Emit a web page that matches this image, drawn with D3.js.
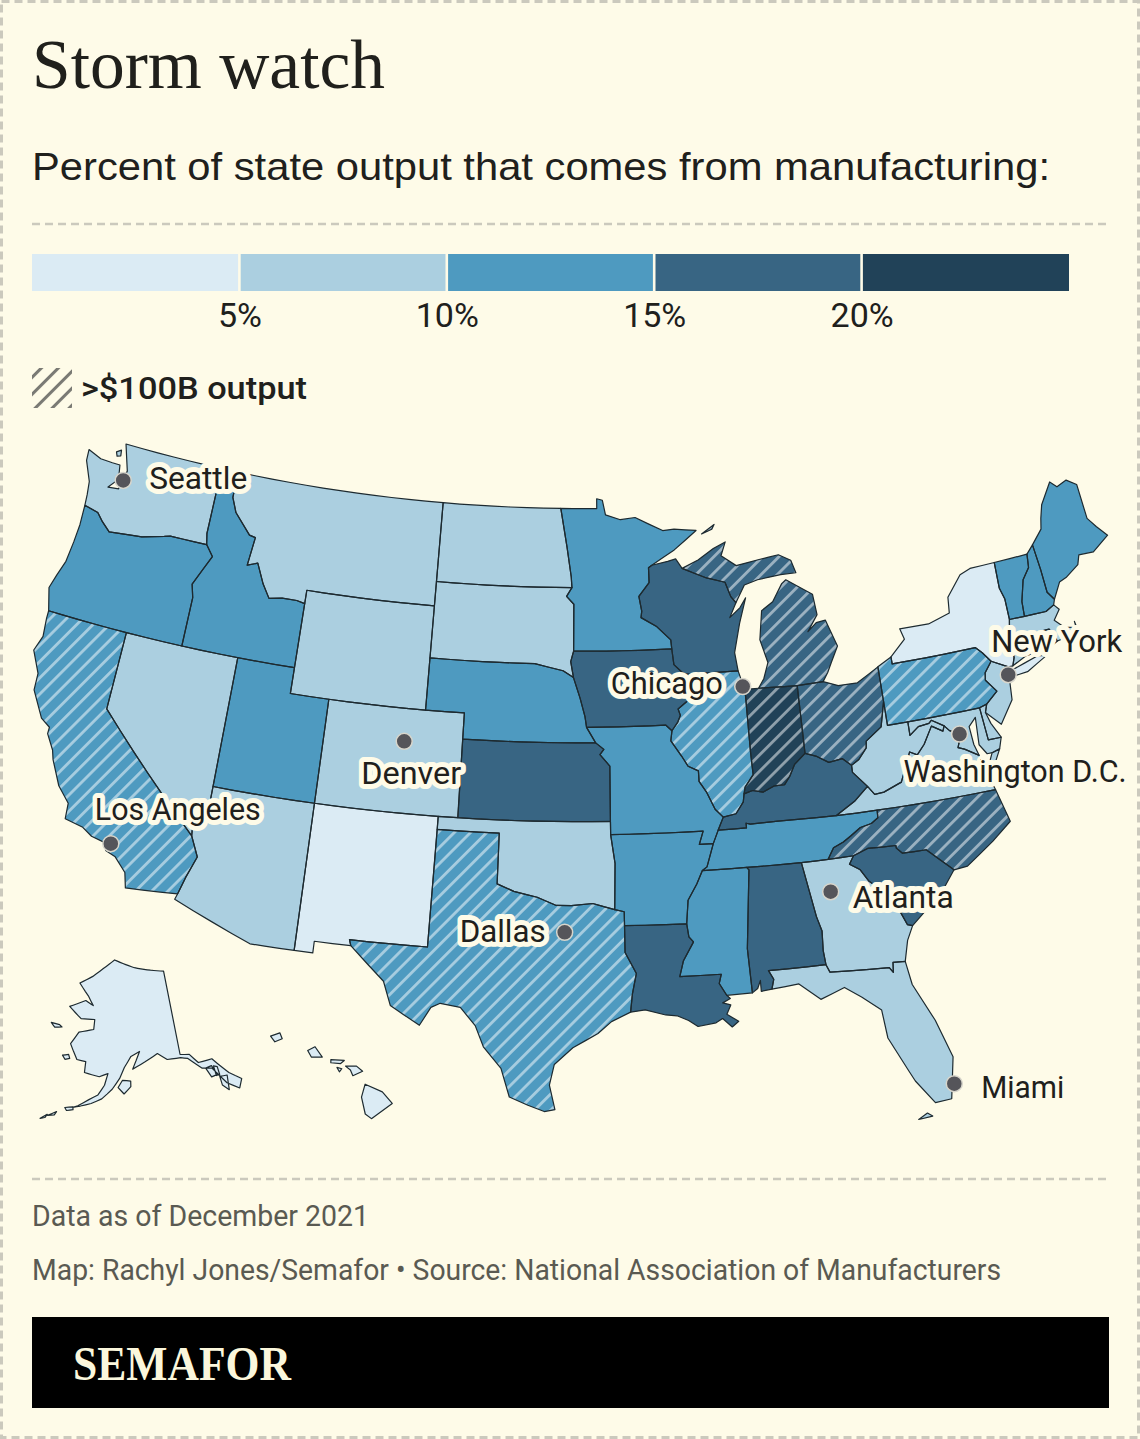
<!DOCTYPE html>
<html>
<head>
<meta charset="utf-8">
<script src="https://cdn.jsdelivr.net/npm/d3@7"></script>
<style>
  html, body { margin: 0; padding: 0; background: #fefbe8; }
  svg { display: block; }
  .label { font-family: Roboto, sans-serif; font-size: 32px; fill: #20201c; paint-order: stroke; stroke: #fefbe8; stroke-width: 10px; stroke-linejoin: round; }
  .foot { font-family: Roboto, sans-serif; font-size: 30px; fill: #5a5a52; }
</style>
</head>
<body>
<svg id="chart" width="1140" height="1439"></svg>
<script>
// ---- text ----
const titleText = 'Storm watch';
const subtitleText = 'Percent of state output that comes from manufacturing:';
const hatchKeyText = '>$100B output';
const footLines = ['Data as of December 2021', 'Map: Rachyl Jones/Semafor \u2022 Source: National Association of Manufacturers'];

// ---- colour key ----
const breaks = [5, 10, 15, 20];
const keyMax = 25;
const palette = ['#dbebf4', '#abcfe0', '#4e9ac0', '#386583', '#214258'];

// ---- percent of output from manufacturing ----
const stateValues = {
  AL: 17, AK: 4, AZ: 8, AR: 14, CA: 11, CO: 6, CT: 9, DE: 6, FL: 5, GA: 9.5, HI: 2, ID: 11, IL: 12, IN: 25,
  IA: 17, KS: 16, KY: 17, LA: 17, ME: 10.5, MD: 5.5, MA: 9, MI: 18, MN: 13, MS: 14, MO: 11, MT: 6, NE: 11,
  NV: 5, NH: 11, NJ: 6.5, NM: 3.5, NY: 4.5, NC: 16, ND: 7.5, OH: 17, OK: 9, OR: 13, PA: 12, RI: 8, SC: 16,
  SD: 9.8, TN: 14.5, TX: 12, UT: 11, VT: 11, VA: 8, WA: 9, WV: 9, WI: 18, WY: 6
};
// states over $100B manufacturing output
const bigOutput = ['CA', 'TX', 'IL', 'PA', 'MI', 'OH', 'NC', 'IN'];

// ---- cities [name, lon, lat] ----
const cities = [
  ['Seattle', -122.33, 47.61], ['Chicago', -87.63, 41.88], ['New York', -74.0, 40.71],
  ['Denver', -104.99, 39.74], ['Los Angeles', -118.24, 34.05], ['Dallas', -96.8, 32.78],
  ['Atlanta', -84.39, 33.75], ['Washington D.C.', -77.04, 38.9], ['Miami', -80.19, 25.76]
];

// ---- shared state borders, lon/lat ----
const mnWi = [[-92.1,46.75],[-92.29,46.66],[-92.29,46.08],[-92.88,45.57],[-92.75,45.0],[-92.8,44.75],[-92.0,44.4],[-91.25,43.85],[-91.22,43.5]];
const iaWi = [[-91.22,43.5],[-91.15,42.9],[-90.64,42.51]];
const iaIl = [[-90.64,42.51],[-90.15,41.9],[-90.34,41.6],[-91.05,41.2],[-90.95,40.95],[-91.1,40.7],[-91.42,40.38]];
const moIl = [[-91.42,40.38],[-91.5,40.0],[-91.0,39.4],[-90.7,39.0],[-90.2,38.8],[-90.2,38.4],[-89.85,37.95],[-89.5,37.3],[-89.13,36.98]];
const moKy = [[-89.13,36.98],[-89.42,36.5]];
const moTn = [[-89.42,36.5],[-89.7,36.0]];
const arTn = [[-89.7,36.0],[-90.07,35.13],[-90.3,35.0]];
const arMs = [[-90.3,35.0],[-90.6,34.5],[-91.05,33.9],[-91.17,33.0]];
const laMs = [[-91.17,33.0],[-91.1,32.5],[-90.9,32.3],[-91.4,31.6],[-91.6,31.0],[-89.73,31.0],[-89.85,30.65],[-89.55,30.18]];
const ilKy = [[-89.13,36.98],[-88.5,37.07],[-88.1,37.5],[-88.03,37.8]];
const inIl = [[-88.03,37.8],[-87.95,38.05],[-87.5,38.5],[-87.53,39.35],[-87.53,41.71]];
const inKy = [[-88.03,37.8],[-87.6,37.9],[-87.1,37.8],[-86.5,38.0],[-86.0,38.0],[-85.7,38.3],[-85.4,38.73],[-84.82,39.1]];
const ohIn = [[-84.82,39.1],[-84.81,41.7]];
const ohKy = [[-84.82,39.1],[-84.3,38.95],[-83.7,38.65],[-83.0,38.72],[-82.6,38.42]];
const ohWv = [[-82.6,38.42],[-82.2,38.6],[-81.75,39.0],[-81.7,39.25],[-80.85,39.7],[-80.52,40.64]];
const ohPa = [[-80.52,40.64],[-80.52,41.98]];
const wvKy = [[-82.6,38.42],[-82.6,38.15],[-81.97,37.54]];
const kyVa = [[-81.97,37.54],[-82.7,37.05],[-83.68,36.6]];
const kyTn = [[-89.42,36.5],[-88.05,36.5],[-88.05,36.68],[-87.85,36.63],[-86.5,36.65],[-83.68,36.6]];
const vaTn = [[-83.68,36.6],[-81.68,36.59]];
const vaNc = [[-81.68,36.59],[-75.87,36.55]];
const tnNc = [[-81.68,36.59],[-81.7,36.3],[-82.05,36.12],[-82.6,36.03],[-83.1,35.77],[-83.5,35.57],[-84.0,35.4],[-84.32,34.99]];
const tnMs = [[-90.3,35.0],[-88.2,35.0]];
const tnAl = [[-88.2,35.0],[-85.6,34.98]];
const tnGa = [[-85.6,34.98],[-84.32,34.99]];
const ncGa = [[-84.32,34.99],[-83.11,35.0]];
const ncSc = [[-83.11,35.0],[-82.4,35.2],[-81.05,35.15],[-81.05,35.05],[-80.8,34.82],[-79.67,34.8],[-78.55,33.86]];
const gaSc = [[-83.11,35.0],[-83.35,34.7],[-82.9,34.45],[-82.55,33.95],[-81.9,33.45],[-81.5,33.0],[-81.1,32.1],[-80.87,32.03]];
const alGa = [[-85.6,34.98],[-85.18,32.87],[-85.0,32.3],[-85.05,31.55],[-85.0,31.0]];
const gaFl = [[-85.0,31.0],[-84.86,30.7],[-82.2,30.57],[-82.05,30.37],[-82.0,30.75],[-81.45,30.72]];
const alFl = [[-85.0,31.0],[-87.6,31.0],[-87.4,30.65],[-87.52,30.28]];
const alMs = [[-88.2,35.0],[-88.1,34.9],[-88.47,31.9],[-88.4,30.2]];
const arMo = [[-89.7,36.0],[-90.37,36.0],[-90.15,36.5],[-94.62,36.5]];
const moOk = [[-94.62,36.5],[-94.62,37.0]];
const moKs = [[-94.62,37.0],[-94.61,39.11],[-95.1,39.55],[-94.9,39.75],[-95.31,40.0]];
const moNe = [[-95.31,40.0],[-95.77,40.59]];
const moIa = [[-95.77,40.59],[-91.73,40.61],[-91.42,40.38]];
const iaNe = [[-95.77,40.59],[-95.85,41.0],[-96.1,41.7],[-96.45,42.49]];
const iaSd = [[-96.45,42.49],[-96.6,43.1],[-96.45,43.5]];
const iaMn = [[-96.45,43.5],[-91.22,43.5]];
const mnSd = [[-96.45,43.5],[-96.45,45.3],[-96.85,45.6],[-96.56,45.94]];
const mnNd = [[-96.56,45.94],[-96.6,46.35],[-96.85,47.5],[-97.23,49.0]];
const wiMi = [[-90.42,46.57],[-89.1,46.14],[-88.1,45.92],[-87.85,45.35],[-87.6,45.1]];
const ilWi = [[-87.8,42.49],[-90.64,42.51]];
const miIn = [[-86.82,41.76],[-84.81,41.7]];
const miOh = [[-84.81,41.7],[-83.45,41.73]];
const paNy = [[-79.76,42.27],[-79.76,42.0],[-75.35,42.0],[-75.05,41.75],[-74.7,41.36]];
const paNj = [[-74.7,41.36],[-75.13,40.98],[-75.2,40.7],[-74.75,40.2],[-75.4,39.8]];
const paDe = [[-75.4,39.8],[-75.79,39.72]];
const paMd = [[-75.79,39.72],[-79.48,39.72]];
const paWv = [[-79.48,39.72],[-80.52,39.72],[-80.52,40.64]];
const nyVt = [[-73.34,45.01],[-73.4,44.0],[-73.25,43.55],[-73.27,42.75]];
const nyMa = [[-73.27,42.75],[-73.5,42.05]];
const nyCt = [[-73.5,42.05],[-73.5,41.3],[-73.66,41.0]];
const nyNj = [[-73.9,41.0],[-74.7,41.36]];
const vtNh = [[-71.5,45.01],[-71.6,44.5],[-72.05,44.1],[-72.4,43.3],[-72.46,42.73]];
const vtMa = [[-73.27,42.75],[-72.46,42.73]];
const nhMa = [[-72.46,42.73],[-71.3,42.7],[-70.82,42.87]];
const nhMe = [[-71.08,45.3],[-71.0,44.3],[-70.98,43.4],[-70.7,43.07]];
const maCt = [[-73.5,42.05],[-71.8,42.02]];
const maRi = [[-71.8,42.02],[-71.38,42.02],[-71.12,41.5]];
const ctRi = [[-71.8,42.02],[-71.85,41.32]];
const mdDe = [[-75.79,39.72],[-75.7,38.46],[-75.05,38.45]];
const mdVa = [[-76.3,37.95],[-76.95,38.3],[-77.25,38.4],[-77.04,38.79],[-77.12,38.93],[-77.5,39.1],[-77.72,39.32]];
const mdWv = [[-77.72,39.32],[-78.3,39.62],[-78.45,39.52],[-79.0,39.47],[-79.49,39.2],[-79.48,39.72]];
const vaWv = [[-77.72,39.32],[-77.83,39.13],[-78.35,39.4],[-78.87,38.77],[-79.3,38.42],[-79.65,38.58],[-80.3,37.5],[-81.22,37.23],[-81.68,37.2],[-81.97,37.54]];
const okTx = [[-103.0,36.5],[-100.0,36.5],[-100.0,34.56],[-99.2,34.3],[-98.1,34.1],[-97.2,33.8],[-96.5,33.8],[-95.5,33.88],[-94.48,33.64]];
const okAr = [[-94.62,36.5],[-94.43,35.4],[-94.48,33.64]];
const arTx = [[-94.48,33.64],[-94.04,33.55],[-94.04,33.02]];
const arLa = [[-94.04,33.02],[-91.17,33.0]];
const txLa = [[-94.04,33.02],[-94.04,31.99],[-93.55,31.18],[-93.75,30.4],[-93.85,29.7]];
const waOr = [[-124.0,46.27],[-123.2,46.15],[-122.8,45.85],[-122.3,45.55],[-121.2,45.65],[-120.5,45.7],[-119.3,45.93],[-118.98,46.0],[-116.92,46.0]];
const waId = [[-117.03,49.0],[-117.04,46.42],[-116.92,46.0]];
const orId = [[-116.92,46.0],[-116.47,45.6],[-116.85,45.0],[-117.22,44.4],[-117.03,43.9],[-117.03,42.0]];
const orCa = [[-124.21,42.0],[-120.0,42.0]];
const idMt = [[-116.05,49.0],[-116.05,48.0],[-115.7,47.45],[-114.7,46.7],[-114.35,46.65],[-114.5,45.55],[-113.95,45.7],[-113.45,44.95],[-113.0,44.45],[-112.3,44.55],[-111.5,44.55],[-111.05,44.48]];
const caNv = [[-120.0,42.0],[-120.0,39.0],[-114.6,35.0]];
const caAz = [[-114.6,35.0],[-114.15,34.25],[-114.5,33.4],[-114.72,32.72]];
const nvAz = [[-114.05,36.2],[-114.75,36.1],[-114.6,35.0]];

// ---- state outlines, one entry per polygon ----
const rev = a => a.slice().reverse();
const stateShapes = {
  WA: [[[-124.7,48.38],[-123.9,48.17],[-123.2,48.15],[-122.75,48.15],[-122.6,47.6],[-123.05,47.2],[-122.45,47.25],[-122.35,47.7],[-122.25,48.0],[-122.5,48.5],[-122.75,49.0],...waId, ...rev(waOr),[-124.05,46.7],[-124.15,47.2],[-124.65,47.95]],
       [[-123.15,48.6],[-122.9,48.72],[-122.85,48.5],[-123.05,48.45]]],
  OR: [[...waOr, ...orId, ...rev(orCa),[-124.55,42.85],[-124.35,43.4],[-124.1,44.0],[-124.0,44.8],[-123.95,45.5]]],
  CA: [[...orCa, ...caNv, ...caAz,[-117.12,32.53],[-117.3,33.1],[-117.9,33.6],[-118.4,33.75],[-118.5,34.03],[-119.2,34.15],[-119.7,34.4],[-120.6,34.55],[-120.65,35.15],[-121.3,35.7],[-121.9,36.6],[-122.05,36.95],[-122.5,37.5],[-122.5,37.75],[-123.0,38.0],[-123.75,38.95],[-123.8,39.6],[-124.35,40.4],[-124.1,41.0],[-124.2,41.7]]],
  ID: [[...waId.slice(0,1),...idMt,[-111.05,42.0],...rev(orId), ...rev(waId)]],
  MT: [[...idMt,[-111.05,45.0],[-104.05,45.0],[-104.05,49.0]]],
  WY: [[[-111.05,45.0],[-104.05,45.0],[-104.05,41.0],[-111.05,41.0]]],
  ND: [[[-104.05,49.0],[-97.23,49.0],...rev(mnNd),[-104.05,45.94]]],
  SD: [[[-104.05,45.94],[-96.56,45.94],...rev(mnSd),...rev(iaSd),[-97.0,42.75],[-98.5,43.0],[-104.05,43.0]]],
  NE: [[[-104.05,43.0],[-98.5,43.0],[-97.0,42.75],...rev(iaNe),...rev(moNe),[-102.05,40.0],[-102.05,41.0],[-104.05,41.0]]],
  KS: [[[-102.05,40.0],[-95.31,40.0],...rev(moKs),[-102.04,37.0]]],
  CO: [[[-109.05,41.0],[-102.05,41.0],[-102.05,37.0],[-109.05,37.0]]],
  UT: [[[-114.05,42.0],[-111.05,42.0],[-111.05,41.0],[-109.05,41.0],[-109.05,37.0],[-114.05,37.0]]],
  NV: [[[-120.0,42.0],[-114.05,42.0],[-114.05,36.2],...nvAz.slice(1),...rev(caNv).slice(1)]],
  AZ: [[[-114.05,37.0],[-109.05,37.0],[-109.05,31.33],[-111.07,31.33],[-114.8,32.5],...rev(caAz),[-114.75,36.1],[-114.05,36.2]]],
  NM: [[[-109.05,37.0],[-103.0,37.0],[-103.05,32.0],[-106.62,32.0],[-106.53,31.78],[-108.2,31.78],[-108.2,31.33],[-109.05,31.33]]],
  OK: [[[-103.0,37.0],[-94.62,37.0],...rev(moOk),...okAr,...rev(okTx)]],
  TX: [[...okTx,...arTx,...txLa,[-94.7,29.35],[-95.3,28.9],[-96.4,28.35],[-97.2,27.7],[-97.4,26.9],[-97.15,25.95],[-97.6,25.87],[-98.3,26.1],[-99.1,26.4],[-99.5,27.5],[-100.3,28.3],[-100.7,29.1],[-101.4,29.77],[-102.3,29.88],[-102.7,29.7],[-103.15,28.98],[-104.5,29.65],[-104.9,30.55],[-106.53,31.78],[-106.62,32.0],[-103.05,32.0]]],
  MN: [[[-97.23,49.0],[-95.15,49.0],[-95.15,49.38],[-94.82,49.32],[-94.65,48.75],[-93.8,48.55],[-92.95,48.62],[-91.4,48.07],[-90.75,48.1],[-89.5,48.0],[-90.8,47.3],...mnWi,...rev(iaMn),...mnSd,...mnNd]],
  IA: [[...iaMn,...iaWi,...iaIl,...rev(moIa),...iaNe,...iaSd]],
  MO: [[...moIa,...moIl,...moKy,...moTn,...arMo,...moOk,...moKs,...moNe]],
  AR: [[...okAr.slice(0,1),...rev(arMo).slice(1),...arTn,...arMs,...rev(arLa),...rev(arTx),...rev(okAr).slice(1)]],
  LA: [[...arLa,...laMs,[-89.4,30.05],[-89.75,29.9],[-89.4,29.8],[-89.6,29.45],[-89.1,29.15],[-89.4,28.95],[-89.8,29.3],[-90.1,29.15],[-90.9,29.05],[-91.3,29.3],[-91.8,29.5],[-92.3,29.55],[-93.2,29.77],...rev(txLa)]],
  WI: [[[-92.1,46.75],[-91.2,46.87],[-90.75,46.95],[-90.42,46.57],...wiMi,[-88.0,44.55],[-87.4,44.9],[-87.05,45.25],[-87.5,44.3],[-87.9,43.2],...ilWi,...rev(iaWi),...rev(mnWi).slice(1)]],
  IL: [[...ilWi,...iaIl,...moIl,...ilKy,...inIl,[-87.8,42.49]]],
  IN: [[...inIl,[-87.2,41.76],...miIn,...rev(ohIn),...rev(inKy)]],
  OH: [[...ohIn,...miOh,[-82.7,41.5],[-81.7,41.5],...rev(ohPa),...rev(ohWv),...rev(ohKy)]],
  KY: [[...ilKy,...inKy,...ohKy,...wvKy,...kyVa,...rev(kyTn),...rev(moKy)]],
  TN: [[...kyTn,...vaTn,...tnNc,...rev(tnGa),...rev(tnAl),...rev(tnMs),...rev(arTn),...rev(moTn)]],
  MS: [[...tnMs,...alMs,...rev(laMs),...rev(arMs)]],
  AL: [[...tnAl,...alGa,...alFl,[-88.0,30.23],[-88.0,30.65],[-88.15,30.35],...rev(alMs)]],
  GA: [[...tnGa,...ncGa,...gaSc,[-81.2,31.5],...rev(gaFl),...rev(alGa)]],
  FL: [[...rev(alFl),...gaFl,[-81.3,29.8],[-80.55,28.3],[-80.05,26.8],[-80.4,25.2],[-81.1,25.15],[-81.8,26.1],[-82.0,26.5],[-82.7,27.9],[-82.8,29.0],[-83.6,29.6],[-84.3,30.05],[-85.4,29.7],[-86.3,30.38]],
       [[-81.9,24.6],[-81.3,24.65],[-81.5,24.8]]],
  SC: [[...ncSc,[-79.2,33.2],[-79.9,32.7],...rev(gaSc)]],
  NC: [[...vaNc,[-75.5,35.25],[-76.5,34.65],[-77.9,33.9],...rev(ncSc),...rev(ncGa),...rev(tnNc)]],
  VA: [[...vaTn,...vaNc,[-76.0,36.93],[-76.35,37.0],[-76.3,37.55],...mdVa,...vaWv,...kyVa],
       [[-75.65,37.95],[-75.25,38.03],[-75.9,37.15],[-75.95,37.5]]],
  WV: [[...ohWv,...rev(paWv),...rev(mdWv),...vaWv,...rev(wvKy)]],
  MD: [[...mdDe,[-75.25,38.03],[-75.65,37.95],[-75.9,37.95],[-76.2,38.35],[-76.1,39.4],[-76.5,39.1],[-76.45,38.4],...mdVa,...mdWv,...rev(paMd)]],
  DE: [[...paDe,...mdDe,[-75.4,39.05],[-75.55,39.5]]],
  PA: [[...ohPa,...paNy,...paNj,...paDe,...paMd,...paWv]],
  NJ: [[...nyNj,...paNj,[-75.55,39.5],[-74.9,38.93],[-74.1,39.75],[-74.0,40.45],[-74.25,40.5]]],
  NY: [[...rev(paNy).slice(-1),[-78.9,42.85],[-79.05,43.27],[-77.5,43.25],[-76.3,43.5],[-76.2,44.1],[-75.3,44.85],[-74.7,45.0],...nyVt,...nyMa,...nyCt,[-73.9,41.0],...nyNj,...rev(paNy)],
       [[-74.03,40.6],[-73.75,40.85],[-72.3,41.15],[-71.87,41.07],[-73.0,40.65]]],
  CT: [[...maCt,...ctRi,[-72.9,41.25],...rev(nyCt)]],
  RI: [[...maRi,[-71.5,41.37],...rev(ctRi)]],
  MA: [[...nyMa.slice(0,1),...vtMa,...nhMa,[-70.6,42.65],[-71.0,42.3],[-70.6,41.95],[-70.0,41.8],[-70.0,42.05],[-69.95,41.7],[-70.65,41.55],...rev(maRi),...rev(maCt)]],
  VT: [[...nyVt,...vtMa,...rev(vtNh)]],
  NH: [[...vtNh,...nhMa,...rev(nhMe)]],
  ME: [[...nhMe,[-70.2,43.65],[-69.8,43.75],[-69.0,44.1],[-68.8,44.45],[-68.0,44.4],[-67.0,44.85],[-67.45,45.3],[-67.8,45.7],[-67.8,47.07],[-68.3,47.35],[-68.9,47.2],[-69.22,47.46],[-70.0,46.7],[-70.25,46.2],[-70.4,45.8]]],
  MI: [[...miIn,...miOh,[-83.15,42.05],[-82.9,42.4],[-82.45,43.0],[-82.9,44.05],[-83.4,44.0],[-83.9,43.7],[-83.3,44.3],[-83.4,45.1],[-84.75,45.78],[-85.0,45.65],[-85.6,45.0],[-86.25,44.7],[-86.5,43.6],[-86.2,42.7],[-86.5,42.1]],
       [...wiMi,[-87.05,45.75],[-86.3,45.9],[-85.0,46.0],[-84.15,46.0],[-84.35,46.5],[-85.0,46.77],[-86.1,46.67],[-87.4,46.52],[-88.2,46.95],[-87.9,47.47],[-88.6,47.25],[-89.5,46.85]],
       [[-89.2,47.85],[-88.45,48.18],[-88.6,48.0]]],
  AK: [[[-141.0,69.65],[-145.0,70.0],[-150.0,70.45],[-156.5,71.35],[-160.0,70.3],[-163.0,69.3],[-166.5,68.35],[-163.5,67.1],[-161.8,66.1],[-164.0,66.55],[-168.0,65.6],[-164.5,64.5],[-161.0,64.6],[-161.0,63.5],[-164.5,63.0],[-166.0,61.6],[-164.0,60.0],[-162.0,59.9],[-162.0,58.7],[-158.8,58.4],[-157.0,58.8],[-157.6,57.5],[-158.8,56.4],[-160.5,55.8],[-162.5,55.0],[-163.4,54.75],[-162.0,55.0],[-160.0,55.4],[-158.0,56.0],[-156.0,57.1],[-154.5,58.3],[-153.5,59.5],[-152.0,60.7],[-150.0,61.2],[-151.7,59.3],[-149.0,60.0],[-146.0,60.8],[-144.0,60.0],[-141.0,59.95],[-139.5,59.7],[-137.0,58.3],[-135.0,58.0],[-133.0,56.0],[-131.0,55.0],[-130.0,55.9],[-132.0,57.0],[-134.5,59.0],[-137.5,59.0],[-139.0,60.1],[-141.0,60.3]],
       [[-154.8,57.3],[-153.9,58.1],[-152.2,58.0],[-152.2,57.4],[-153.6,56.6]],
       [[-171.6,63.4],[-169.5,63.4],[-168.8,63.2],[-170.5,63.0]],
       [[-167.3,60.2],[-166.0,60.4],[-165.6,60.0],[-166.6,59.8]],
       [[-164.9,54.6],[-163.4,54.8],[-163.3,54.5],[-164.5,54.3]],
       [[-167.8,53.4],[-166.3,54.0],[-166.6,53.6]],
       [[-169.0,52.9],[-167.9,53.5],[-168.2,53.1]],
       [[-136.3,58.2],[-135.0,58.3],[-134.3,57.2],[-135.6,57.1]],
       [[-134.6,58.2],[-133.9,58.0],[-133.9,57.1],[-134.6,57.1]],
       [[-134.0,56.9],[-132.5,56.8],[-133.0,55.2],[-134.0,55.9]]],
  HI: [[[-155.9,20.25],[-155.2,19.95],[-154.8,19.5],[-155.65,18.92],[-155.9,19.1],[-156.05,19.75]],
       [[-156.7,20.95],[-156.25,20.95],[-156.0,20.75],[-156.4,20.58],[-156.5,20.8]],
       [[-157.3,21.2],[-156.75,21.17],[-156.9,21.05],[-157.3,21.08]],
       [[-157.05,20.9],[-156.85,20.85],[-156.95,20.73]],
       [[-158.25,21.55],[-157.95,21.7],[-157.65,21.3],[-158.1,21.3]],
       [[-159.78,22.1],[-159.4,22.23],[-159.3,22.0],[-159.6,21.88]]]
};

// ---- setup ----
const width = 1140, height = 1439, left = 32, right = 1108;
const cream = '#fefbe8', ruleColor = '#cbc9bd';
const svg = d3.select('#chart');
const color = d3.scaleThreshold().domain(breaks).range(palette);
const projection = d3.geoAlbersUsa().scale(1490).translate([570, 777]);
const path = d3.geoPath(projection);

// hatch patterns
const defs = svg.append('defs');
defs.append('pattern').attr('id', 'stripes').attr('patternUnits', 'userSpaceOnUse')
  .attr('width', 11.5).attr('height', 11.5).attr('patternTransform', 'rotate(45)')
  .append('rect').attr('width', 2.8).attr('height', 11.5).attr('fill', '#fff').attr('opacity', 0.5);
defs.append('pattern').attr('id', 'keyStripes').attr('patternUnits', 'userSpaceOnUse')
  .attr('width', 12).attr('height', 12).attr('patternTransform', 'rotate(45)')
  .append('rect').attr('width', 3).attr('height', 12).attr('fill', '#7a7a74');

// page frame and rules
svg.append('rect').attr('width', width).attr('height', height).attr('fill', cream);
svg.append('rect').attr('x', 1.5).attr('y', 1.5).attr('width', width - 3).attr('height', height - 3)
  .attr('fill', 'none').attr('stroke', ruleColor).attr('stroke-width', 3).attr('stroke-dasharray', '8 5');
svg.selectAll('.rule').data([224, 1179]).join('line').attr('class', 'rule')
  .attr('x1', left).attr('x2', right).attr('y1', d => d).attr('y2', d => d)
  .attr('stroke', ruleColor).attr('stroke-width', 2.5).attr('stroke-dasharray', '8 5');

// title block
svg.append('text').attr('x', left).attr('y', 88).text(titleText)
  .attr('font-family', '"Liberation Serif", serif').attr('font-size', 70).attr('fill', '#20201c')
  .attr('textLength', 353).attr('lengthAdjust', 'spacingAndGlyphs');
svg.append('text').attr('x', left).attr('y', 180).text(subtitleText)
  .attr('font-family', '"Liberation Sans", sans-serif').attr('font-size', 39).attr('fill', '#20201c')
  .attr('textLength', 1018).attr('lengthAdjust', 'spacingAndGlyphs');

// colour key
const keyX = d3.scaleLinear().domain([0, keyMax]).range([left, 1069]);
const keyEdges = [0, ...breaks];
svg.selectAll('.swatch').data(keyEdges).join('rect').attr('class', 'swatch')
  .attr('x', (d, i) => keyX(d) + (i ? 1.3 : 0))
  .attr('width', (d, i) => keyX(d + 5) - keyX(d) - (i ? 1.3 : 0) - (i < 4 ? 1.3 : 0))
  .attr('y', 254).attr('height', 37)
  .attr('fill', d => color(d + 0.1));
const keyAxis = svg.append('g').attr('transform', 'translate(0,291)')
  .call(d3.axisBottom(keyX).tickValues(breaks).tickFormat(d => d + '%').tickSize(0).tickPadding(12));
keyAxis.select('.domain').remove();
keyAxis.selectAll('text').attr('font-family', 'Roboto, sans-serif').attr('font-size', 34).attr('fill', '#20201c');

// hatch key
svg.append('rect').attr('x', left).attr('y', 368).attr('width', 40).attr('height', 40).attr('fill', 'url(#keyStripes)');
svg.append('text').attr('x', 81).attr('y', 399).text(hatchKeyText)
  .attr('font-family', 'Roboto, sans-serif').attr('font-weight', 500).attr('font-size', 31).attr('fill', '#20201c')
  .attr('textLength', 226).attr('lengthAdjust', 'spacingAndGlyphs');

// states
const outward = ring => d3.geoArea({type: 'Polygon', coordinates: [ring]}) > 2 * Math.PI ? rev(ring) : ring;
// long borders follow parallels, so step along them instead of along great circles
function alongParallels(ring) {
  const out = [];
  const closed = [...ring, ring[0]];
  d3.pairs(closed).forEach(([a, b]) => {
    const n = Math.max(1, Math.ceil(Math.abs(b[0] - a[0])));
    d3.range(n).forEach(i => out.push([a[0] + (b[0] - a[0]) * i / n, a[1] + (b[1] - a[1]) * i / n]));
  });
  out.push(out[0].slice());
  return out;
}
const features = Object.keys(stateShapes).map(id => ({
  type: 'Feature', id: id,
  geometry: {type: 'MultiPolygon', coordinates: stateShapes[id].map(r => [outward(alongParallels(r))])}
}));
const map = svg.append('g');
map.selectAll('.state').data(features).join('path').attr('class', 'state')
  .attr('d', path).attr('fill', d => color(stateValues[d.id]));
map.selectAll('.hatch').data(features.filter(d => bigOutput.includes(d.id))).join('path').attr('class', 'hatch')
  .attr('d', path).attr('fill', 'url(#stripes)');
map.selectAll('.outline').data(features).join('path').attr('class', 'outline')
  .attr('d', path).attr('fill', 'none').attr('stroke', '#1d2a30').attr('stroke-width', 1.2).attr('stroke-linejoin', 'round');

// city labels, placed relative to their dots
const labelPlace = {
  'Seattle': {dx: 26, dy: 9, w: 98}, 'Chicago': {dx: -132, dy: 7, w: 112}, 'New York': {dx: -17, dy: -23, w: 131},
  'Denver': {dx: -43, dy: 43, w: 100}, 'Los Angeles': {dx: -16, dy: -24, w: 166}, 'Dallas': {dx: -105, dy: 10, w: 86},
  'Atlanta': {dx: 22, dy: 16, w: 101}, 'Washington D.C.': {dx: -56, dy: 48, w: 223}, 'Miami': {dx: 27, dy: 14, w: 83}
};
const cityG = svg.append('g').selectAll('g').data(cities).join('g')
  .attr('transform', d => 'translate(' + projection([d[1], d[2]]) + ')');
cityG.append('text').attr('class', 'label').text(d => d[0])
  .attr('x', d => labelPlace[d[0]].dx).attr('y', d => labelPlace[d[0]].dy)
  .attr('textLength', d => labelPlace[d[0]].w).attr('lengthAdjust', 'spacingAndGlyphs');
cityG.append('circle').attr('r', 8).attr('fill', '#55555a').attr('stroke', '#d8d6cc').attr('stroke-width', 1.5);

// footer
svg.selectAll('.foot').data(footLines).join('text').attr('class', 'foot')
  .attr('x', left).attr('y', (d, i) => 1226 + i * 54).text(d => d)
  .attr('textLength', (d, i) => [337, 969][i]).attr('lengthAdjust', 'spacingAndGlyphs');
svg.append('rect').attr('x', left).attr('y', 1317).attr('width', right - left + 1).attr('height', 91).attr('fill', '#000');
svg.append('text').attr('x', 73).attr('y', 1380).text('SEMAFOR')
  .attr('font-family', '"Liberation Serif", serif').attr('font-weight', 700).attr('font-size', 48).attr('fill', '#fbf7dc')
  .attr('textLength', 218).attr('lengthAdjust', 'spacingAndGlyphs');
</script>
</body>
</html>
